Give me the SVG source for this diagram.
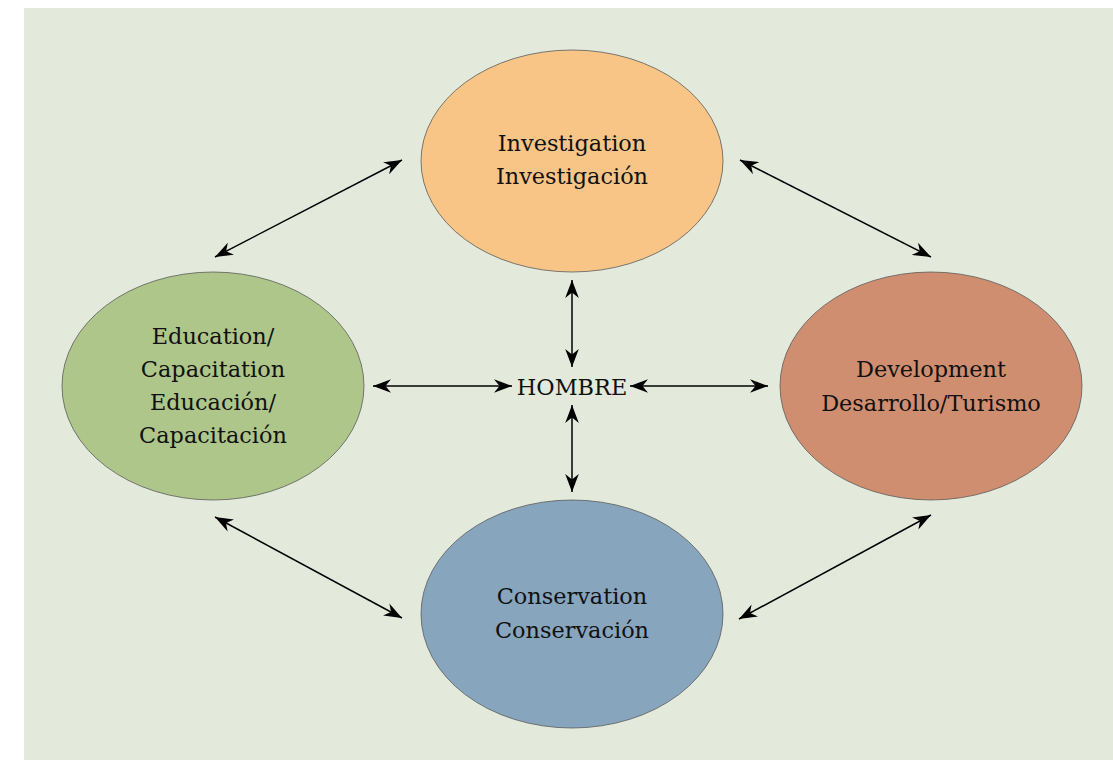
<svg xmlns="http://www.w3.org/2000/svg" width="1113" height="760" viewBox="0 0 1113 760">
  <style>
    .node { stroke: #5a5a5a; stroke-width: 0.8; }
    .label { font-family: "DejaVu Serif", "Liberation Serif", serif; font-size: 22.4px; fill: #111; text-anchor: middle; }
    .link { stroke: #000; stroke-width: 1.5; fill: none; marker-start: url(#head); marker-end: url(#head); }
  </style>
  <defs>
    <marker id="head" viewBox="-18 -7 19 14" refX="0" refY="0" markerWidth="19" markerHeight="14" markerUnits="userSpaceOnUse" orient="auto-start-reverse">
      <path d="M0,0 L-18,-6.8 L-12.5,0 L-18,6.8 Z" fill="#000"/>
    </marker>
  </defs>

  <!-- backdrop panel -->
  <rect x="24" y="8" width="1089" height="752" fill="#e3eadb"/>

  <!-- connectors -->
  <g id="connectors">
    <line class="link" x1="215" y1="257" x2="402" y2="160"/>
    <line class="link" x1="740" y1="160" x2="931" y2="257"/>
    <line class="link" x1="215" y1="517" x2="402" y2="618"/>
    <line class="link" x1="739" y1="619" x2="931" y2="515"/>
    <line class="link" x1="572" y1="280" x2="572" y2="367"/>
    <line class="link" x1="572" y1="405" x2="572" y2="492"/>
    <line class="link" x1="373" y1="386" x2="512" y2="386"/>
    <line class="link" x1="630" y1="386" x2="768" y2="386"/>
  </g>

  <g id="investigation">
    <ellipse class="node" cx="572" cy="161" rx="151" ry="111" fill="#f8c587"/>
    <text class="label" x="572" y="151">Investigation</text>
    <text class="label" x="572" y="184">Investigación</text>
  </g>

  <g id="education">
    <ellipse class="node" cx="213" cy="386" rx="151" ry="114" fill="#afc68a"/>
    <text class="label" x="213" y="344">Education/</text>
    <text class="label" x="213" y="377">Capacitation</text>
    <text class="label" x="213" y="410">Educación/</text>
    <text class="label" x="213" y="443">Capacitación</text>
  </g>

  <g id="development">
    <ellipse class="node" cx="931" cy="386" rx="151" ry="114" fill="#d08e70"/>
    <text class="label" x="931" y="377">Development</text>
    <text class="label" x="931" y="411">Desarrollo/Turismo</text>
  </g>

  <g id="conservation">
    <ellipse class="node" cx="572" cy="614" rx="151" ry="114" fill="#87a5bd"/>
    <text class="label" x="572" y="604">Conservation</text>
    <text class="label" x="572" y="638">Conservación</text>
  </g>

  <g id="hombre">
    <text class="label" x="572" y="395">HOMBRE</text>
  </g>
</svg>
